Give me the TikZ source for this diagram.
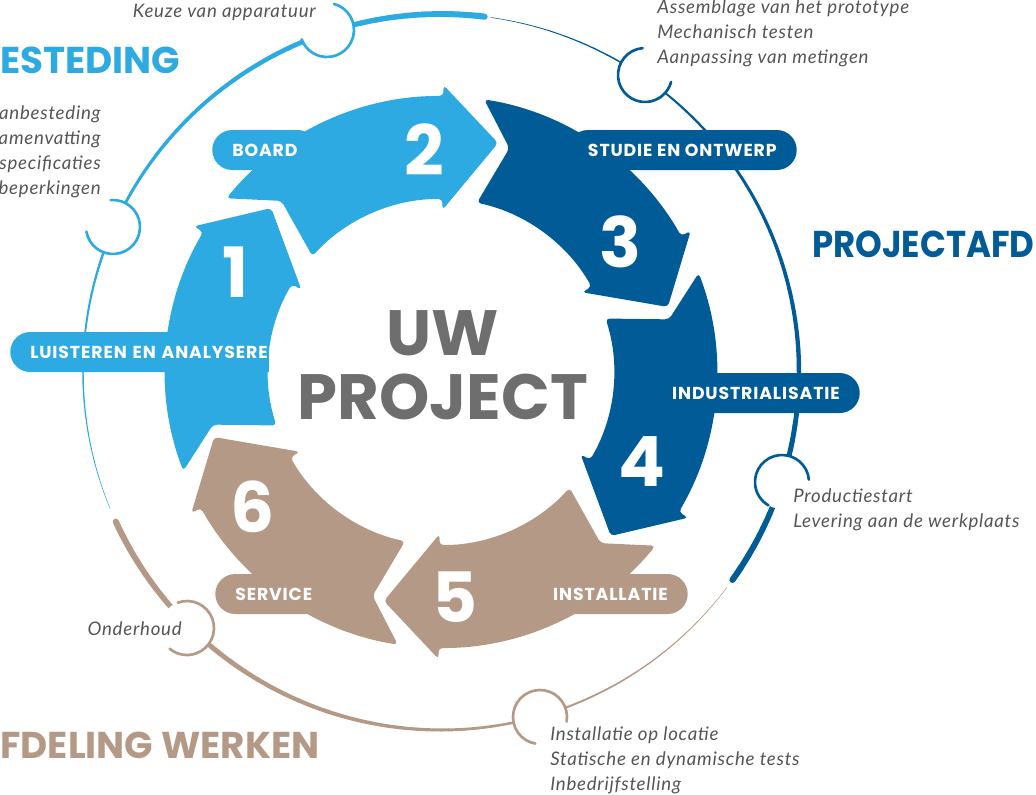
\documentclass[tikz,border=0pt]{standalone}
\usepackage{fontspec}
\newfontfamily\headfont{Poppins}
\newfontfamily\pillfont{Poppins}[LetterSpace=5]
\newfontfamily\notefont{Lato}[LetterSpace=4]
\usepackage{xcolor}
\usepackage{tikz}

\definecolor{stepblue}{RGB}{45,170,225}
\definecolor{stepnavy}{RGB}{0,91,150}
\definecolor{stepsand}{RGB}{181,153,135}
\definecolor{slate}{RGB}{110,110,110}
\definecolor{notegray}{RGB}{85,85,85}

\begin{document}
\begin{tikzpicture}[x=0.75pt, y=0.75pt,
  pill/.style={rounded corners=15pt, text=white, minimum height=30pt, inner xsep=15pt, inner ysep=0pt,
    font=\pillfont\bfseries\fontsize{13}{13}\selectfont},
  stepnum/.style={text=white, font=\headfont\bfseries\fontsize{52}{52}\selectfont},
  note/.style={text=notegray, inner sep=0pt, font=\notefont\itshape\fontsize{14}{18.75}\selectfont},
  title/.style={inner sep=0pt, font=\headfont\bfseries\fontsize{28}{28}\selectfont}]
\useasboundingbox (-441,-422) rectangle (595,372);

% outer ring, three tapered parts
\foreach \col/\from/\to in {stepblue/202.4/83, stepnavy/82/-35.5, stepsand/-37/-155.3}{
  \foreach \i in {0,...,47}{
    \pgfmathsetmacro\aa{\from+(\to-\from)*\i/48}
    \pgfmathsetmacro\bb{\from+(\to-\from)*(\i+1)/48}
    \pgfmathsetmacro\lw{0.3+4.3*(\i+1)/48}
    \draw[\col, line width=\lw pt, line cap=round] (\aa:358) arc[start angle=\aa, end angle=\bb, radius=358];
  }
}
\foreach \cx/\cy/\col/\a/\b in {-114/342/stepblue/75/-160, -328/145/stepblue/95/-170,
    204/297/stepnavy/95/345, 341/-110/stepnavy/5/240,
    -254/-256/stepsand/110/-130, 99/-345/stepsand/-10/260}{
  \fill[white] (\cx,\cy) circle (27);
  \draw[\col, line width=2pt, line cap=round] (\cx,\cy) ++(\a:27) arc[start angle=\a, end angle=\b, radius=27];
}

% six curved arrows
\foreach \col [count=\k] in {stepblue,stepblue,stepnavy,stepnavy,stepsand,stepsand}{
  \pgfmathsetmacro\t{136-60*(\k-1)}
  \pgfmathsetmacro\p{\t+60}
  \fill[\col, rounded corners=3pt]
    ({\p+5}:276) arc[start angle={\p+5}, end angle={\t+13.5}, radius=276]
    -- ({\t+13.5}:287) -- (\t:236) -- ({\t+13.5}:162) -- ({\t+13.5}:173)
    arc[start angle={\t+13.5}, end angle={\p+2}, radius=173]
    -- ({\p-3}:234) -- cycle;
}

% labels on the arrows
\node[pill, fill=stepblue, anchor=west] (board) at (-229,222) {BOARD};
\node[pill, fill=stepnavy, anchor=east] (study) at (356,222) {STUDIE EN ONTWERP};
\node[pill, fill=stepnavy, anchor=east] (industry) at (419,-21) {INDUSTRIALISATIE};
\node[pill, fill=stepsand, anchor=east] (install) at (247,-222) {INSTALLATIE};
\node[pill, fill=stepsand, anchor=west] (service) at (-226,-222) {SERVICE};
\begin{scope}
\clip (-441,-422) rectangle (-172,372);
\node[pill, fill=stepblue, anchor=west, inner xsep=10pt, minimum width=240pt, text width=210pt] (listen) at (-431,20) {LUISTEREN EN ANALYSERE};
\end{scope}

\foreach \n/\x/\y in {1/-205/100, 2/-17/222, 3/179/130, 4/201/-90, 5/14/-225, 6/-188/-135}
  \node[stepnum] (num\n) at (\x,\y) {\n};

\node[text=slate, align=center, font=\headfont\bfseries\fontsize{48}{48}\selectfont] (core) at (2,7) {UW\\PROJECT};

% notes along the ring
\node[note, anchor=east] (choice) at (-125,360) {Keuze van apparatuur};
\node[note, anchor=east, align=right] (tender) at (-340,220.5) {anbesteding\\amenvatting\\specificaties\\beperkingen};
\node[note, anchor=west, align=left] (proto) at (216,339) {Assemblage van het prototype\\Mechanisch testen\\Aanpassing van metingen};
\node[note, anchor=west, align=left] (launch) at (352,-137.5) {Productiestart\\Levering aan de werkplaats};
\node[note, anchor=east] (upkeep) at (-259,-257) {Onderhoud};
\node[note, anchor=west, align=left] (site) at (109,-388) {Installatie op locatie\\Statische en dynamische tests\\Inbedrijfstelling};

\node[title, text=stepblue, anchor=west] (tendering) at (-441,312) {ESTEDING};
\node[title, text=stepnavy, anchor=west] (projdept) at (371,128) {\scalebox{0.91}[1]{PROJECTAFD}};
\node[title, text=stepsand, anchor=west] (works) at (-441,-373) {FDELING WERKEN};
\end{tikzpicture}
\end{document}
